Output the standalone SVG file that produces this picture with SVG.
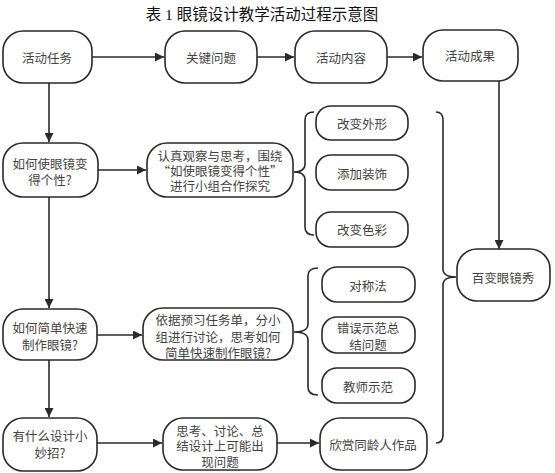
<svg xmlns="http://www.w3.org/2000/svg" width="555" height="473" viewBox="0 0 555 473">
<defs>
<style>
.box{fill:#fff;stroke:#2a2a2a;stroke-width:1.6}
.t{font-family:"Noto Sans CJK SC","Noto Sans",sans-serif;font-size:12.5px;fill:#444;text-anchor:middle;dominant-baseline:central}
.ln{fill:none;stroke:#2a2a2a;stroke-width:1.6}
.title{font-family:"Liberation Serif","Noto Sans CJK SC",serif;font-size:15.5px;fill:#111;text-anchor:middle;dominant-baseline:central}
</style>
<marker id="ah" viewBox="0 0 10 10" refX="10" refY="5" markerWidth="10" markerHeight="9" markerUnits="userSpaceOnUse" orient="auto">
<path d="M0,0 L10,5 L0,10 Z" fill="#2a2a2a"/>
</marker>
</defs>
<rect width="555" height="473" fill="#fff"/>
<text class="title" x="262" y="14">表 1 眼镜设计教学活动过程示意图</text>

<g id="connectors">
<line class="ln" x1="92" y1="57" x2="164" y2="57" marker-end="url(#ah)"/>
<line class="ln" x1="257" y1="57" x2="294" y2="57" marker-end="url(#ah)"/>
<line class="ln" x1="387" y1="57" x2="422" y2="57" marker-end="url(#ah)"/>
<line class="ln" x1="49" y1="83" x2="49" y2="142" marker-end="url(#ah)"/>
<line class="ln" x1="98" y1="170" x2="146" y2="170" marker-end="url(#ah)"/>
<line class="ln" x1="49" y1="197" x2="49" y2="308" marker-end="url(#ah)"/>
<line class="ln" x1="97" y1="335" x2="142" y2="335" marker-end="url(#ah)"/>
<line class="ln" x1="49" y1="360" x2="49" y2="417" marker-end="url(#ah)"/>
<line class="ln" x1="97" y1="443" x2="162" y2="443" marker-end="url(#ah)"/>
<line class="ln" x1="277" y1="443" x2="319" y2="443" marker-end="url(#ah)"/>
<line class="ln" x1="499" y1="81" x2="499" y2="249" marker-end="url(#ah)"/>
<path class="ln" d="M314 112 Q305 112 305 120 L305 164 Q305 172 294 172 Q305 172 305 180 L305 227 Q305 235 314 235"/>
<path class="ln" d="M318 268 Q308 268 308 276 L308 324 Q308 332 294 332 Q308 332 308 340 L308 387 Q308 395 318 395"/>
<path class="ln" d="M436 112 Q443 112 443 120 L443 269 Q443 277 456 277 Q443 277 443 285 L443 435 Q443 443 436 443"/>
</g>

<g id="n1"><rect class="box" x="3" y="31" width="89" height="52" rx="20"/><text class="t" x="47" y="57">活动任务</text></g>
<g id="n2"><rect class="box" x="165" y="31" width="92" height="52" rx="20"/><text class="t" x="211" y="57">关键问题</text></g>
<g id="n3"><rect class="box" x="295" y="31" width="92" height="52" rx="20"/><text class="t" x="341" y="57">活动内容</text></g>
<g id="n4"><rect class="box" x="423" y="30" width="95" height="51" rx="20"/><text class="t" x="470" y="55">活动成果</text></g>

<g id="q1"><rect class="box" x="3" y="143" width="95" height="54" rx="20"/><text class="t"><tspan x="50" y="163">如何使眼镜变</tspan><tspan x="50" y="179">得个性?</tspan></text></g>
<g id="a1"><rect class="box" x="147" y="143" width="146" height="54" rx="20"/><text class="t"><tspan x="220" y="155">认真观察与思考，围绕</tspan><tspan x="220" y="170">“如使眼镜变得个性”</tspan><tspan x="220" y="185">进行小组合作探究</tspan></text></g>
<g id="i1"><rect class="box" x="316" y="106" width="92" height="34" rx="15"/><text class="t" x="362" y="123">改变外形</text></g>
<g id="i2"><rect class="box" x="316" y="155" width="92" height="35" rx="15"/><text class="t" x="362" y="173">添加装饰</text></g>
<g id="i3"><rect class="box" x="316" y="212" width="92" height="35" rx="15"/><text class="t" x="362" y="229">改变色彩</text></g>

<g id="q2"><rect class="box" x="3" y="309" width="94" height="51" rx="20"/><text class="t"><tspan x="50" y="327">如何简单快速</tspan><tspan x="50" y="344">制作眼镜?</tspan></text></g>
<g id="a2"><rect class="box" x="143" y="308" width="150" height="52" rx="20"/><text class="t"><tspan x="218" y="319">依据预习任务单，分小</tspan><tspan x="218" y="336">组进行讨论，思考如何</tspan><tspan x="218" y="352">简单快速制作眼镜?</tspan></text></g>
<g id="j1"><rect class="box" x="322" y="267" width="93" height="35" rx="15"/><text class="t" x="368" y="285">对称法</text></g>
<g id="j2"><rect class="box" x="322" y="317" width="93" height="36" rx="15"/><text class="t"><tspan x="368" y="327">错误示范总</tspan><tspan x="368" y="344">结问题</tspan></text></g>
<g id="j3"><rect class="box" x="322" y="368" width="93" height="35" rx="15"/><text class="t" x="368" y="386">教师示范</text></g>

<g id="q3"><rect class="box" x="3" y="418" width="94" height="53" rx="20"/><text class="t"><tspan x="50" y="435">有什么设计小</tspan><tspan x="50" y="452">妙招?</tspan></text></g>
<g id="a3"><rect class="box" x="163" y="418" width="114" height="52" rx="20"/><text class="t"><tspan x="220" y="430">思考、讨论、总</tspan><tspan x="220" y="445">结设计上可能出</tspan><tspan x="220" y="461">现问题</tspan></text></g>
<g id="k1"><rect class="box" x="320" y="418" width="107" height="52" rx="20"/><text class="t" x="373" y="444">欣赏同龄人作品</text></g>

<g id="res"><rect class="box" x="457" y="249" width="93" height="52" rx="20"/><text class="t" x="503" y="277">百变眼镜秀</text></g>
</svg>
